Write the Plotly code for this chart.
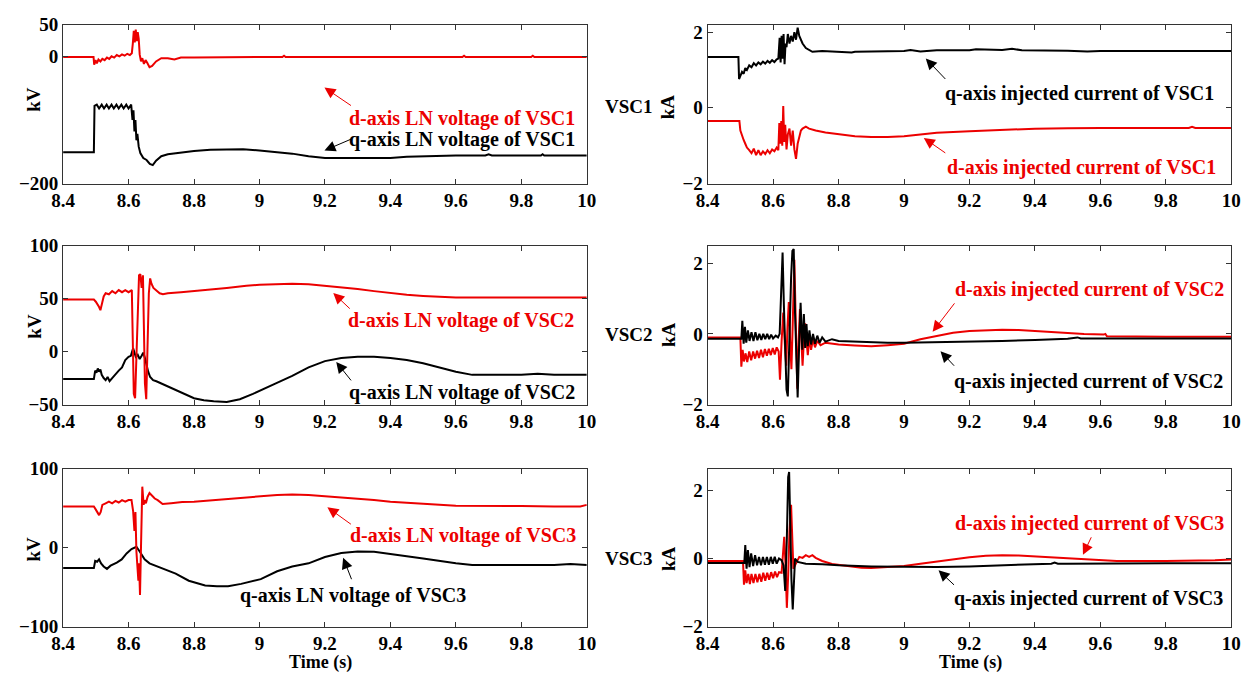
import plotly.graph_objects as go

FONT = "Liberation Serif, Times New Roman, serif"
RED = "rgb(236,0,0)"
BLACK = "black"
W, H = 1260, 686

X_TICKS = [8.4, 8.6, 8.8, 9.0, 9.2, 9.4, 9.6, 9.8, 10.0]
X_TICK_TEXT = ["8.4", "8.6", "8.8", "9", "9.2", "9.4", "9.6", "9.8", "10"]

# ---- VSC1 : LN voltages (kV) ----
VSC1_UD = [(8.400, -1), (8.493, -1), (8.495, -13), (8.499, -6), (8.503, -11), (8.508, -5), (8.514, -8),
           (8.520, -4), (8.527, -6), (8.534, -2), (8.541, -4), (8.548, 0), (8.556, -2), (8.564, 2),
           (8.572, 0), (8.580, 3), (8.588, 1), (8.596, 4), (8.604, 2), (8.610, 5), (8.613, 20), (8.616, 40),
           (8.619, 22), (8.622, 42), (8.625, 24), (8.628, 38), (8.631, 28), (8.634, 3), (8.638, -8),
           (8.642, -3), (8.647, -12), (8.652, -6), (8.657, -10), (8.664, -17), (8.672, -15), (8.684, -8),
           (8.700, -3), (8.720, -3), (8.740, -5), (8.760, -2), (8.800, -2), (8.900, -1), (9.000, -1),
           (9.070, -1), (9.075, 1), (9.080, -1), (9.200, -1), (9.620, -1), (9.625, 1), (9.630, -1),
           (9.830, -1), (9.835, 1), (9.840, -1), (10.000, -1)]
VSC1_UQ = [(8.400, -151), (8.494, -151), (8.496, -78), (8.503, -76), (8.510, -82), (8.518, -76), (8.525, -82),
           (8.533, -76), (8.540, -82), (8.548, -76), (8.555, -82), (8.563, -76), (8.570, -82), (8.578, -76),
           (8.585, -82), (8.593, -76), (8.600, -82), (8.608, -76), (8.612, -100), (8.615, -85), (8.618, -118),
           (8.621, -100), (8.624, -132), (8.627, -122), (8.631, -142), (8.636, -152), (8.645, -160),
           (8.655, -163), (8.665, -169), (8.674, -171), (8.684, -164), (8.700, -157), (8.720, -154),
           (8.750, -152), (8.800, -149), (8.850, -147), (8.900, -146), (8.950, -146), (9.000, -148),
           (9.050, -150), (9.100, -153), (9.150, -157), (9.200, -160), (9.300, -160), (9.400, -160),
           (9.450, -158), (9.500, -157), (9.600, -156), (9.690, -156), (9.700, -154), (9.710, -156),
           (9.860, -156), (9.865, -154), (9.870, -156), (10.000, -156)]

# ---- VSC1 : injected currents (kA) ----
VSC1_IQ = [(8.400, 1.34), (8.494, 1.34), (8.496, 0.76), (8.500, 0.85), (8.505, 0.95), (8.510, 0.9), (8.515, 1.05),
           (8.520, 1.0), (8.527, 1.12), (8.534, 1.07), (8.541, 1.18), (8.548, 1.12), (8.555, 1.2), (8.562, 1.15),
           (8.569, 1.22), (8.576, 1.17), (8.583, 1.24), (8.590, 1.19), (8.597, 1.26), (8.604, 1.21),
           (8.611, 1.28), (8.616, 1.3), (8.620, 1.85), (8.623, 1.2), (8.626, 1.9), (8.629, 1.3), (8.632, 1.95),
           (8.635, 1.15), (8.638, 1.7), (8.641, 1.6), (8.645, 1.95), (8.650, 1.7), (8.655, 1.9), (8.660, 1.75),
           (8.665, 2.0), (8.670, 1.8), (8.675, 2.12), (8.680, 1.9), (8.685, 1.8), (8.690, 1.7), (8.700, 1.58),
           (8.710, 1.52), (8.720, 1.48), (8.750, 1.5), (8.800, 1.48), (8.840, 1.46), (8.850, 1.48),
           (8.900, 1.49), (9.000, 1.5), (9.020, 1.53), (9.050, 1.49), (9.100, 1.52), (9.200, 1.52),
           (9.220, 1.55), (9.300, 1.53), (9.330, 1.56), (9.360, 1.52), (9.500, 1.51), (9.560, 1.49),
           (9.600, 1.5), (9.800, 1.5), (9.810, 1.48), (9.820, 1.5), (10.000, 1.5)]
VSC1_ID = [(8.400, -0.35), (8.497, -0.35), (8.500, -0.6), (8.505, -0.75), (8.510, -0.85), (8.515, -0.95),
           (8.520, -1.05), (8.527, -1.12), (8.534, -1.2), (8.541, -1.08), (8.548, -1.25), (8.555, -1.12),
           (8.562, -1.25), (8.569, -1.15), (8.576, -1.22), (8.583, -1.12), (8.590, -1.2), (8.597, -1.1),
           (8.604, -1.15), (8.611, -1.05), (8.616, -1.12), (8.619, -0.4), (8.622, -0.95), (8.625, -0.35),
           (8.628, -1.0), (8.631, 0.05), (8.634, -0.9), (8.637, -0.45), (8.641, -1.1), (8.645, -0.7),
           (8.650, -0.55), (8.655, -1.0), (8.660, -0.6), (8.665, -1.1), (8.670, -1.35), (8.675, -0.95),
           (8.680, -0.75), (8.685, -0.6), (8.690, -0.55), (8.700, -0.5), (8.710, -0.55), (8.730, -0.6),
           (8.760, -0.65), (8.800, -0.7), (8.850, -0.75), (8.900, -0.77), (8.950, -0.77), (9.000, -0.75),
           (9.050, -0.7), (9.100, -0.66), (9.200, -0.62), (9.300, -0.58), (9.400, -0.55), (9.500, -0.54),
           (9.600, -0.53), (9.870, -0.53), (9.880, -0.5), (9.890, -0.53), (10.000, -0.53)]

# ---- VSC2 : LN voltages (kV) ----
VSC2_UD = [(8.400, 49), (8.494, 49), (8.500, 47), (8.505, 45), (8.510, 42), (8.514, 39), (8.518, 44), (8.524, 52),
           (8.530, 55), (8.540, 54), (8.550, 57), (8.560, 55), (8.570, 58), (8.580, 56), (8.590, 58),
           (8.600, 56), (8.610, 58), (8.613, 20), (8.616, -40), (8.620, -44), (8.624, -10), (8.628, 40),
           (8.632, 72), (8.636, 73), (8.640, 60), (8.644, 72), (8.647, 20), (8.650, -30), (8.654, -45),
           (8.658, 10), (8.662, 55), (8.666, 69), (8.670, 64), (8.676, 60), (8.685, 58), (8.695, 55),
           (8.705, 54), (8.720, 55), (8.760, 56), (8.800, 57), (8.860, 59), (8.900, 60), (8.960, 62),
           (9.000, 63), (9.050, 63.5), (9.100, 64), (9.150, 63.5), (9.200, 62), (9.250, 61), (9.300, 59),
           (9.350, 57), (9.400, 55), (9.450, 53.5), (9.500, 52.5), (9.550, 51.5), (9.600, 51), (9.700, 51),
           (9.800, 51), (9.900, 51), (10.000, 51)]
VSC2_UQ = [(8.400, -26), (8.494, -26), (8.498, -18), (8.502, -20), (8.506, -16), (8.510, -19), (8.514, -17),
           (8.518, -22), (8.524, -25), (8.530, -27), (8.536, -24), (8.542, -28), (8.550, -25), (8.560, -21),
           (8.570, -18), (8.580, -15), (8.590, -8), (8.600, -5), (8.607, -4), (8.614, 3), (8.618, -2),
           (8.622, -5), (8.628, -3), (8.634, -7), (8.640, -4), (8.645, -1), (8.650, -6), (8.655, -13),
           (8.660, -19), (8.666, -24), (8.675, -27), (8.685, -28), (8.700, -30), (8.720, -33), (8.750, -37),
           (8.780, -41), (8.800, -44), (8.830, -46), (8.860, -47), (8.900, -47.5), (8.940, -45), (8.980, -40),
           (9.000, -37), (9.050, -30), (9.100, -23), (9.150, -15), (9.200, -9), (9.250, -6), (9.300, -5),
           (9.350, -5), (9.400, -6), (9.450, -8), (9.500, -11), (9.550, -15), (9.600, -19), (9.650, -22),
           (9.700, -22), (9.800, -22), (9.850, -21), (9.900, -22), (10.000, -22)]

# ---- VSC2 : injected currents (kA) ----
VSC2_ID = [(8.400, -0.1), (8.500, -0.1), (8.503, -0.93), (8.507, -0.45), (8.511, -0.78), (8.516, -0.55),
           (8.521, -0.8), (8.527, -0.5), (8.533, -0.75), (8.539, -0.5), (8.545, -0.7), (8.551, -0.48),
           (8.557, -0.68), (8.563, -0.45), (8.569, -0.66), (8.575, -0.43), (8.581, -0.62), (8.587, -0.42),
           (8.593, -0.6), (8.599, -0.4), (8.605, -0.58), (8.611, -0.38), (8.617, -0.5), (8.621, -1.3),
           (8.626, -0.2), (8.631, 0.6), (8.636, -0.3), (8.640, -0.9), (8.644, 0.2), (8.648, 0.9),
           (8.652, -0.2), (8.656, -1.0), (8.660, 0.3), (8.665, 2.1), (8.669, 0.4), (8.674, -1.55),
           (8.678, -0.2), (8.682, 0.7), (8.686, -0.1), (8.690, -0.9), (8.694, -0.2), (8.698, 0.3),
           (8.702, -0.2), (8.706, -0.6), (8.711, -0.1), (8.716, -0.45), (8.722, -0.15), (8.728, -0.38),
           (8.735, -0.2), (8.745, -0.32), (8.760, -0.25), (8.800, -0.3), (8.850, -0.33), (8.900, -0.35),
           (8.950, -0.32), (9.000, -0.28), (9.050, -0.15), (9.100, -0.05), (9.150, 0.03), (9.200, 0.08),
           (9.250, 0.11), (9.300, 0.12), (9.350, 0.11), (9.400, 0.08), (9.450, 0.05), (9.500, 0.02),
           (9.550, 0.0), (9.610, -0.02), (9.615, 0.0), (9.620, -0.07), (9.700, -0.08), (9.800, -0.08),
           (9.900, -0.08), (10.000, -0.08)]
VSC2_IQ = [(8.400, -0.14), (8.503, -0.14), (8.506, 0.37), (8.510, -0.28), (8.514, 0.2), (8.518, -0.25),
           (8.523, 0.1), (8.528, -0.2), (8.534, 0.05), (8.540, -0.2), (8.546, 0.05), (8.552, -0.18),
           (8.558, 0.0), (8.564, -0.17), (8.570, 0.0), (8.576, -0.15), (8.582, 0.0), (8.588, -0.15),
           (8.594, -0.02), (8.600, -0.13), (8.608, -0.05), (8.615, -0.1), (8.620, 0.0), (8.624, 1.26),
           (8.629, 2.3), (8.633, 0.8), (8.637, -0.6), (8.641, -1.58), (8.645, -1.77), (8.650, 0.0),
           (8.655, 1.6), (8.659, 2.35), (8.663, 2.4), (8.667, 0.6), (8.671, -1.0), (8.675, -1.8),
           (8.679, -0.5), (8.684, 0.88), (8.689, -0.45), (8.694, 0.56), (8.698, -0.4), (8.702, 0.28),
           (8.706, -0.35), (8.711, 0.1), (8.716, -0.3), (8.722, 0.0), (8.728, -0.28), (8.735, -0.05),
           (8.742, -0.25), (8.750, -0.1), (8.760, -0.22), (8.780, -0.15), (8.800, -0.2), (8.850, -0.22),
           (8.900, -0.24), (8.950, -0.25), (9.000, -0.25), (9.100, -0.24), (9.200, -0.22), (9.300, -0.2),
           (9.400, -0.17), (9.500, -0.14), (9.530, -0.1), (9.540, -0.13), (9.600, -0.13), (9.800, -0.13),
           (10.000, -0.13)]

# ---- VSC3 : LN voltages (kV) ----
VSC3_UD = [(8.400, 52), (8.494, 52), (8.500, 48), (8.506, 44), (8.510, 41), (8.515, 45), (8.520, 54), (8.530, 56),
           (8.540, 58), (8.550, 56), (8.560, 59), (8.570, 57), (8.580, 60), (8.590, 58), (8.600, 60),
           (8.609, 60), (8.614, 46), (8.618, 21), (8.621, 45), (8.624, -5), (8.627, -21), (8.630, -42),
           (8.632, -20), (8.635, -60), (8.638, 0), (8.642, 77), (8.646, 54), (8.649, 60), (8.653, 56),
           (8.658, 64), (8.664, 69), (8.672, 65), (8.680, 62), (8.689, 60), (8.704, 55), (8.730, 56),
           (8.764, 57.5), (8.800, 58), (8.864, 60), (8.900, 62), (8.964, 64), (9.000, 65), (9.054, 66.5),
           (9.100, 67), (9.150, 66.5), (9.200, 65), (9.250, 63.5), (9.300, 62), (9.350, 60), (9.400, 58),
           (9.450, 56.5), (9.500, 55), (9.550, 54), (9.600, 53), (9.700, 53), (9.800, 52.5), (9.900, 52),
           (9.980, 52), (10.000, 54)]
VSC3_UQ = [(8.400, -26), (8.494, -26), (8.498, -17), (8.504, -18), (8.510, -15), (8.516, -20), (8.524, -24),
           (8.534, -27), (8.545, -23), (8.555, -21), (8.564, -19), (8.579, -15), (8.594, -7.5), (8.609, -2),
           (8.624, 1), (8.634, -5), (8.649, -15), (8.664, -20), (8.684, -23), (8.704, -26), (8.744, -33),
           (8.784, -42), (8.834, -48), (8.870, -49), (8.904, -49), (8.944, -46), (9.004, -40), (9.054, -30),
           (9.100, -24), (9.150, -20), (9.200, -12), (9.250, -7), (9.300, -5), (9.350, -5.5), (9.400, -8),
           (9.450, -11), (9.500, -14), (9.550, -17), (9.600, -20), (9.650, -22), (9.700, -22), (9.800, -22),
           (9.900, -22), (9.950, -21), (10.000, -22)]

# ---- VSC3 : injected currents (kA) ----
VSC3_ID = [(8.400, -0.07), (8.508, -0.07), (8.511, -0.77), (8.515, -0.35), (8.519, -0.72), (8.524, -0.45),
           (8.529, -0.75), (8.534, -0.45), (8.540, -0.72), (8.546, -0.45), (8.552, -0.7), (8.558, -0.45),
           (8.564, -0.68), (8.570, -0.42), (8.576, -0.65), (8.582, -0.42), (8.588, -0.62), (8.594, -0.4),
           (8.600, -0.58), (8.606, -0.38), (8.612, -0.55), (8.618, -0.4), (8.626, -0.42), (8.630, 0.3),
           (8.634, 0.64), (8.638, -0.2), (8.642, -1.45), (8.646, -0.5), (8.650, 0.8), (8.655, 1.58),
           (8.659, 0.6), (8.662, -0.3), (8.667, -0.2), (8.672, -0.1), (8.680, 0.05), (8.690, 0.02),
           (8.700, 0.1), (8.710, 0.05), (8.720, 0.1), (8.730, 0.02), (8.750, -0.07), (8.780, -0.16),
           (8.810, -0.2), (8.840, -0.25), (8.870, -0.27), (8.900, -0.28), (8.950, -0.25), (9.000, -0.22),
           (9.050, -0.15), (9.100, -0.08), (9.150, -0.02), (9.200, 0.04), (9.250, 0.08), (9.300, 0.1),
           (9.350, 0.09), (9.400, 0.06), (9.450, 0.03), (9.500, 0.0), (9.550, -0.02), (9.600, -0.05),
           (9.650, -0.07), (9.800, -0.07), (9.900, -0.07), (9.950, -0.05), (10.000, -0.03)]
VSC3_IQ = [(8.400, -0.13), (8.512, -0.13), (8.515, 0.4), (8.519, -0.3), (8.523, 0.25), (8.528, -0.25),
           (8.533, 0.15), (8.539, -0.22), (8.545, 0.1), (8.551, -0.2), (8.557, 0.05), (8.563, -0.2),
           (8.569, 0.05), (8.575, -0.18), (8.581, 0.05), (8.587, -0.18), (8.593, 0.05), (8.599, -0.15),
           (8.605, 0.05), (8.611, -0.15), (8.618, 0.0), (8.626, -0.05), (8.632, -0.2), (8.637, -0.95),
           (8.642, 0.6), (8.646, 2.4), (8.649, 2.55), (8.652, 1.0), (8.656, -0.6), (8.660, -1.5),
           (8.663, -0.8), (8.667, 0.0), (8.675, -0.1), (8.690, -0.12), (8.700, -0.15), (8.750, -0.17),
           (8.800, -0.2), (8.900, -0.23), (9.000, -0.25), (9.100, -0.25), (9.200, -0.23), (9.300, -0.2),
           (9.400, -0.17), (9.450, -0.15), (9.460, -0.12), (9.470, -0.15), (9.500, -0.15), (9.600, -0.14),
           (9.800, -0.14), (10.000, -0.14)]

# panel layout: (row, col, traces drawn in order, y range, y ticks)
PANELS = [
    (1, 1, [(VSC1_UQ, BLACK), (VSC1_UD, RED)], [-200, 50], [-200, 0, 50]),
    (1, 2, [(VSC1_ID, RED), (VSC1_IQ, BLACK)], [-2, 2.2], [-2, 0, 2]),
    (2, 1, [(VSC2_UQ, BLACK), (VSC2_UD, RED)], [-50, 100], [-50, 0, 50, 100]),
    (2, 2, [(VSC2_ID, RED), (VSC2_IQ, BLACK)], [-2, 2.5], [-2, 0, 2]),
    (3, 1, [(VSC3_UQ, BLACK), (VSC3_UD, RED)], [-100, 100], [-100, 0, 100]),
    (3, 2, [(VSC3_ID, RED), (VSC3_IQ, BLACK)], [-2, 2.65], [-2, 0, 2]),
]

X_DOM = {1: [52 / W, 585 / W], 2: [708 / W, 1241 / W]}
Y_DOM = {1: [1 - 179 / H, 1 - 15 / H], 2: [1 - 407 / H, 1 - 243 / H], 3: [1 - 636 / H, 1 - 473 / H]}

fig = go.Figure()
layout = {}
tick_font = dict(family=FONT, size=19, color="black", weight="bold")

for i, (row, col, traces, yr, yt) in enumerate(PANELS, start=1):
    suffix = "" if i == 1 else str(i)
    for series, color in traces:
        t, v = zip(*series)
        fig.add_trace(go.Scatter(x=t, y=v, mode="lines", line=dict(color=color, width=2),
                                 xaxis="x" + suffix, yaxis="y" + suffix, showlegend=False,
                                 hoverinfo="skip"))
    layout["xaxis" + suffix] = dict(domain=X_DOM[col], anchor="y" + suffix, range=[8.4, 10],
                                    tickvals=X_TICKS, ticktext=X_TICK_TEXT, ticks="inside", ticklen=5,
                                    tickcolor="#333", showline=True, linecolor="#333", linewidth=1,
                                    mirror="ticks", showgrid=False, zeroline=False, tickfont=tick_font)
    layout["yaxis" + suffix] = dict(domain=Y_DOM[row], anchor="x" + suffix, range=yr, tickvals=yt,
                                    ticks="inside", ticklen=5, tickcolor="#333", showline=True,
                                    linecolor="#333", linewidth=1, mirror="ticks", showgrid=False,
                                    zeroline=False, tickfont=tick_font)


def px(x):
    return x / W


def py(y):
    return 1 - y / H


anns = []
label_font = dict(family=FONT, size=20, weight="bold")

# curve labels: (text, centre x, centre y, colour)
LABELS = [
    ("d-axis LN voltage of VSC1", 458, 112, RED),
    ("q-axis LN voltage of VSC1", 458, 134, BLACK),
    ("q-axis injected current of VSC1", 1086, 86, BLACK),
    ("d-axis injected current of VSC1", 1088, 162, RED),
    ("d-axis LN voltage of VSC2", 457, 320, RED),
    ("q-axis LN voltage of VSC2", 458, 395, BLACK),
    ("d-axis injected current of VSC2", 1097, 288, RED),
    ("q-axis injected current of VSC2", 1096, 383, BLACK),
    ("d-axis LN voltage of VSC3", 459, 542, RED),
    ("q-axis LN voltage of VSC3", 347, 604, BLACK),
    ("d-axis injected current of VSC3", 1097, 530, RED),
    ("q-axis injected current of VSC3", 1096, 607, BLACK),
]
for text, x, y, c in LABELS:
    anns.append(dict(text=text, x=px(x), y=py(y), xref="paper", yref="paper", showarrow=False,
                     xanchor="center", yanchor="middle", font=dict(label_font, color=c)))

# pointer arrows: (head x, head y, tail x, tail y, colour)
ARROWS = [
    (318, 80, 346, 99, RED), (318, 145, 346, 133, BLACK),
    (930, 50, 951, 72, BLACK), (928, 132, 951, 148, RED),
    (327, 292, 345, 309, RED), (330, 363, 346, 383, BLACK),
    (937, 332, 960, 302, RED), (945, 352, 960, 368, BLACK),
    (321, 513, 346, 531, RED), (337, 565, 346, 588, BLACK),
    (1090, 562, 1099, 543, RED), (943, 578, 960, 594, BLACK),
]
for hx, hy, tx, ty, c in ARROWS:
    anns.append(dict(text="", x=px(hx), y=py(hy), xref="paper", yref="paper", showarrow=True,
                     ax=tx - hx, ay=ty - hy, arrowhead=2, arrowsize=2.2, arrowwidth=1,
                     arrowcolor=c, standoff=0, startstandoff=0))

# axis titles and row labels
side_font = dict(family=FONT, size=19, color="black", weight="bold")
for y in (92, 326, 556):
    anns.append(dict(text="kV", x=px(22), y=py(y), xref="paper", yref="paper", showarrow=False,
                     textangle=-90, font=side_font, xanchor="center", yanchor="middle"))
for name, y in (("VSC1", 100), ("VSC2", 335), ("VSC3", 566)):
    anns.append(dict(text=name, x=px(628), y=py(y), xref="paper", yref="paper", showarrow=False,
                     font=side_font, xanchor="center", yanchor="middle"))
    anns.append(dict(text="kA", x=px(668), y=py(y), xref="paper", yref="paper", showarrow=False,
                     textangle=-90, font=side_font, xanchor="center", yanchor="middle"))
for x in (314, 976):
    anns.append(dict(text="Time (s)", x=px(x), y=py(686), xref="paper", yref="paper", showarrow=False,
                     font=dict(side_font, size=18), xanchor="center", yanchor="bottom"))

fig.update_layout(width=W, height=H, margin=dict(l=0, r=0, t=0, b=0), paper_bgcolor="white",
                  plot_bgcolor="white", annotations=anns, **layout)
fig.write_html("out.html")
